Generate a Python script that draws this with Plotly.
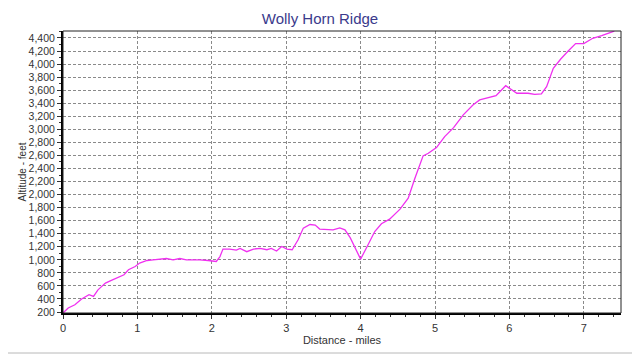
import plotly.graph_objects as go

distance_miles = [0.00, 0.07, 0.16, 0.25, 0.35, 0.41, 0.47, 0.57, 0.65, 0.74, 0.82, 0.88, 0.97,
                  1.03, 1.13, 1.21, 1.30, 1.39, 1.48, 1.57, 1.66, 1.75, 1.84, 1.95, 2.06,
                  2.11, 2.15, 2.24, 2.33, 2.38, 2.47, 2.56, 2.65, 2.74, 2.80, 2.87, 2.94,
                  3.01, 3.08, 3.16, 3.23, 3.32, 3.39, 3.45, 3.54, 3.63, 3.72, 3.79, 3.86,
                  3.93, 4.00, 4.10, 4.19, 4.28, 4.39, 4.53, 4.64, 4.73, 4.84, 4.91, 5.02,
                  5.13, 5.25, 5.38, 5.51, 5.60, 5.72, 5.82, 5.95, 6.03, 6.10, 6.25, 6.34,
                  6.43, 6.50, 6.59, 6.69, 6.79, 6.89, 7.00, 7.12, 7.24, 7.33, 7.41]
altitude_feet = [185, 261, 312, 400, 465, 440, 540, 644, 684, 736, 771, 848, 898,
                 950, 990, 1000, 1005, 1020, 1000, 1020, 1000, 1005, 1000, 990, 975,
                 1050, 1165, 1165, 1150, 1175, 1125, 1165, 1175, 1155, 1175, 1135, 1205,
                 1165, 1155, 1307, 1486, 1541, 1532, 1471, 1460, 1460, 1490, 1460, 1340,
                 1180, 1011, 1230, 1434, 1552, 1624, 1777, 1945, 2251, 2593, 2634, 2720,
                 2888, 3026, 3221, 3374, 3450, 3486, 3516, 3669, 3604, 3553, 3553, 3537,
                 3542, 3654, 3936, 4078, 4201, 4313, 4313, 4395, 4435, 4471, 4506]

x_ticks = [0, 1, 2, 3, 4, 5, 6, 7]
y_ticks = list(range(200, 4401, 200))

font = "Liberation Sans, Arial, sans-serif"

fig = go.Figure()
fig.add_trace(go.Scatter(x=distance_miles, y=altitude_feet, mode="lines",
                         line=dict(color="#f030f0", width=1.3), showlegend=False))

grid = dict(showgrid=True, gridcolor="#8a8a8a", gridwidth=1, griddash="3px,2px")

# page body has an 8px margin, so the figure is 8px smaller and shifted
fig.update_layout(
    width=632, height=347,
    margin=dict(l=55, r=19, t=23, b=42, autoexpand=False),
    paper_bgcolor="white", plot_bgcolor="white",
    title=dict(text="Wolly Horn Ridge", x=312 / 632, xref="container", xanchor="center",
               y=1 - 11 / 347, yref="container", yanchor="middle", automargin=False,
               font=dict(family=font, size=15, color="#3a3a8c")),
    font=dict(family=font, size=10, color="#333333"),
    xaxis=dict(range=[0, 7.5], tickvals=x_ticks, ticks="outside", ticklen=4,
               tickcolor="#333", showline=True, linecolor="black", linewidth=2,
               zeroline=False, automargin=False,
               minor=dict(dtick=0.2, ticks="outside", ticklen=2, tickcolor="#333", showgrid=False),
               title=dict(text="Distance - miles", font=dict(size=11, color="#333"), standoff=1),
               tickfont=dict(size=11, color="#333"), **grid),
    yaxis=dict(range=[185, 4507], tickvals=y_ticks, tickformat=",d", ticks="outside",
               ticklen=4, tickcolor="#333", showline=True, linecolor="black", linewidth=2,
               zeroline=False, automargin=False,
               minor=dict(dtick=100, ticks="outside", ticklen=2, tickcolor="#333", showgrid=False),
               title=dict(text="Altitude - feet", font=dict(size=10, color="#333"), standoff=0),
               tickfont=dict(size=10.5, color="#333"), **grid),
    shapes=[
        dict(type="rect", xref="paper", yref="paper", x0=0, x1=1, y0=0, y1=1,
             line=dict(color="#222", width=1), layer="above"),
        dict(type="line", xref="paper", yref="paper", x0=571 / 558, x1=571 / 558,
             y0=-40 / 282, y1=1.1, line=dict(color="#b8b8b8", width=1)),
        dict(type="line", xref="paper", yref="paper", x0=-55 / 558, x1=571 / 558,
             y0=-40 / 282, y1=-40 / 282, line=dict(color="#b8b8b8", width=1)),
    ],
)

fig.write_html("out.html")
